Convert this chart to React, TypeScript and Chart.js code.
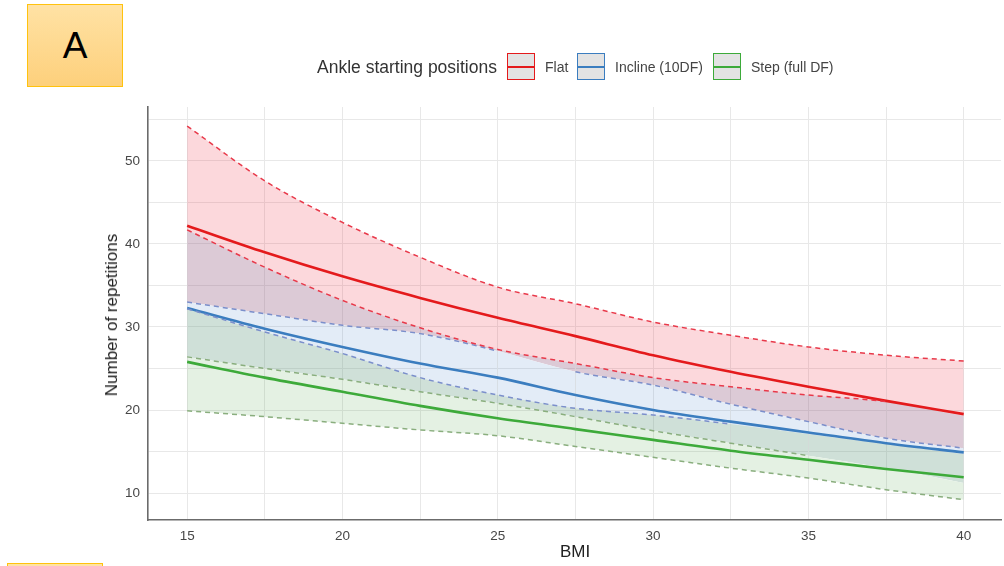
import React, { useEffect, useRef } from "react";
import { Chart, registerables } from "chart.js";

Chart.register(...registerables);

const bmiValues = [15, 17.5, 20, 22.5, 25, 27.5, 30, 32.5, 35, 37.5, 40];

const flatMean = [42.2, 39.0, 36.1, 33.5, 31.1, 28.9, 26.6, 24.6, 22.8, 21.1, 19.5];
const flatUpper = [54.2, 47.6, 42.6, 38.4, 34.8, 32.8, 30.6, 29.0, 27.6, 26.6, 25.9];
const flatLower = [41.7, 37.2, 33.2, 29.9, 27.3, 25.6, 23.9, 22.8, 21.8, 21.0, 19.3];

const inclineMean = [32.3, 29.8, 27.6, 25.6, 23.9, 21.8, 20.0, 18.6, 17.3, 16.0, 14.9];
const inclineUpper = [33.0, 31.6, 30.2, 29.2, 27.1, 24.6, 23.0, 20.7, 18.6, 16.6, 15.4];
const inclineLower = [32.2, 29.4, 26.8, 23.9, 21.8, 20.2, 19.4, 18.3, 17.1, 15.9, 14.7];

const stepMean = [25.8, 23.9, 22.2, 20.5, 19.0, 17.7, 16.4, 15.1, 14.0, 12.9, 11.9];
const stepUpper = [26.4, 25.0, 23.7, 22.2, 20.8, 19.2, 17.5, 16.0, 14.5, 13.0, 11.2];
const stepLower = [19.9, 19.2, 18.4, 17.6, 16.9, 15.6, 14.3, 13.0, 11.8, 10.4, 9.2];

const seriesNames = ["Flat", "Incline (10DF)", "Step (full DF)"];
const legendTitle = "Ankle starting positions";
const xTitle = "BMI";
const yTitle = "Number of repetitions";

const RED = "#E41A1C";
const BLUE = "#3B7DBF";
const GREEN = "#3DAA3A";
const RED_D = "#E8394A";
const BLUE_D = "#7B8FCB";
const GREEN_D = "#8AAE7E";

const PINK = "rgba(240,60,80,0.2)";
const PURPLE = "rgba(138,78,118,0.3)";
const LBLUE = "rgba(70,130,200,0.15)";
const TEAL = "rgba(95,152,125,0.3)";
const LGREEN = "rgba(75,162,68,0.15)";
const NONE = "rgba(0,0,0,0)";

const FONT = "'Liberation Sans', Arial, sans-serif";

const pts = (arr: number[]) => arr.map((y, i) => ({ x: bmiValues[i], y }));

export default function App() {
  const ref = useRef<HTMLCanvasElement | null>(null);

  useEffect(() => {
    if (!ref.current) return;
    const dashed = (data: number[], color: string, fill: any, hide?: (x: number) => boolean) => ({
      data: pts(data),
      borderColor: color,
      borderWidth: 1.5,
      borderDash: [5, 4],
      pointRadius: 0,
      cubicInterpolationMode: "monotone",
      fill,
      segment: hide
        ? { borderColor: (ctx: any) => (hide(ctx.p0.parsed.x) ? NONE : color) }
        : undefined,
    });
    const solid = (data: number[], color: string) => ({
      data: pts(data),
      borderColor: color,
      borderWidth: 2.6,
      pointRadius: 0,
      cubicInterpolationMode: "monotone",
      fill: false,
    });
    const chart = new Chart(ref.current, {
      type: "line",
      data: {
        datasets: [
          dashed(flatUpper, RED_D, { target: 1, above: PINK, below: PINK }),
          dashed(flatLower, RED_D, { target: 3, above: PURPLE, below: NONE }, (x) => x >= 37.5),
          solid(flatMean, RED),
          dashed(inclineUpper, BLUE_D, { target: 4, above: LBLUE, below: LBLUE }, (x) => x >= 25 && x < 27.5),
          dashed(inclineLower, BLUE_D, { target: 6, above: TEAL, below: NONE }, (x) => x >= 32.5),
          solid(inclineMean, BLUE),
          dashed(stepUpper, GREEN_D, { target: 7, above: LGREEN, below: LGREEN }, (x) => x >= 35),
          dashed(stepLower, GREEN_D, false),
          solid(stepMean, GREEN),
        ] as any,
      },
      options: {
        animation: false,
        responsive: false,
        devicePixelRatio: 1,
        layout: { padding: { top: 107, right: 3, left: 0, bottom: 0 } },
        plugins: {
          legend: { display: false },
          tooltip: { enabled: false },
          filler: { drawTime: "beforeDatasetsDraw" } as any,
        },
        scales: {
          x: {
            type: "linear",
            min: 13.74,
            max: 41.2,
            afterFit: (s: any) => {
              s.height = 46;
            },
            grid: { color: "#e8e8e8", lineWidth: 1, drawTicks: false },
            border: { color: "#6b6b6b", width: 1.6 },
            ticks: {
              stepSize: 2.5,
              includeBounds: false,
              autoSkip: false,
              maxRotation: 0,
              padding: 8,
              color: "#474747",
              font: { size: 13.5, family: FONT },
              callback: (v: any) => (Number(v) % 5 === 0 ? String(v) : ""),
            },
          },
          y: {
            type: "linear",
            min: 6.75,
            max: 56.5,
            afterFit: (s: any) => {
              s.width = 148;
            },
            grid: { color: "#e8e8e8", lineWidth: 1, drawTicks: false },
            border: { color: "#6b6b6b", width: 1.6 },
            ticks: {
              stepSize: 5,
              includeBounds: false,
              autoSkip: false,
              padding: 8,
              color: "#474747",
              font: { size: 13.5, family: FONT },
              callback: (v: any) => (Number(v) % 10 === 0 ? String(v) : ""),
            },
          },
        },
      } as any,
    });
    return () => chart.destroy();
  }, []);

  const legendItems = [
    { name: seriesNames[0], color: RED, boxLeft: 507, textLeft: 545 },
    { name: seriesNames[1], color: BLUE, boxLeft: 577, textLeft: 615 },
    { name: seriesNames[2], color: GREEN, boxLeft: 713, textLeft: 751 },
  ];

  return (
    <div
      style={{
        position: "absolute",
        left: 0,
        top: 0,
        width: 1004,
        height: 566,
        overflow: "hidden",
        background: "#fff",
        fontFamily: FONT,
      }}
    >
      <canvas ref={ref} width={1004} height={566} style={{ display: "block", position: "absolute", left: 0, top: 0 }} />
      <div
        style={{
          position: "absolute",
          left: 27,
          top: 4,
          width: 96,
          height: 83,
          boxSizing: "border-box",
          border: "1.5px solid #FFC20E",
          background: "linear-gradient(#FFE2A4, #FDD07C)",
          display: "flex",
          alignItems: "center",
          justifyContent: "center",
          fontSize: 37,
          color: "#000",
        }}
      >
        A
      </div>
      <div
        style={{
          position: "absolute",
          left: 7,
          top: 563,
          width: 96,
          height: 40,
          boxSizing: "border-box",
          border: "1.5px solid #FFC20E",
          background: "#FFE2A4",
        }}
      />
      <div
        style={{
          position: "absolute",
          left: 317,
          top: 56,
          height: 22,
          lineHeight: "22px",
          fontSize: 17.5,
          color: "#333",
          whiteSpace: "nowrap",
        }}
      >
        {legendTitle}
      </div>
      {legendItems.map((it) => (
        <React.Fragment key={it.name}>
          <div
            style={{
              position: "absolute",
              left: it.boxLeft,
              top: 53,
              width: 28,
              height: 27,
              boxSizing: "border-box",
              border: `1.5px solid ${it.color}`,
              background: "#e3e3e3",
            }}
          >
            <div
              style={{
                position: "absolute",
                left: 0,
                right: 0,
                top: 11.5,
                height: 2,
                background: it.color,
              }}
            />
          </div>
          <div
            style={{
              position: "absolute",
              left: it.textLeft,
              top: 57,
              height: 20,
              lineHeight: "20px",
              fontSize: 14,
              color: "#444",
              whiteSpace: "nowrap",
            }}
          >
            {it.name}
          </div>
        </React.Fragment>
      ))}
      <div
        style={{
          position: "absolute",
          left: 112,
          top: 315,
          transform: "translate(-50%, -50%) rotate(-90deg)",
          fontSize: 17,
          color: "#222",
          whiteSpace: "nowrap",
        }}
      >
        {yTitle}
      </div>
      <div
        style={{
          position: "absolute",
          left: 575,
          top: 552,
          transform: "translate(-50%, -50%)",
          fontSize: 17,
          color: "#222",
          whiteSpace: "nowrap",
        }}
      >
        {xTitle}
      </div>
    </div>
  );
}
